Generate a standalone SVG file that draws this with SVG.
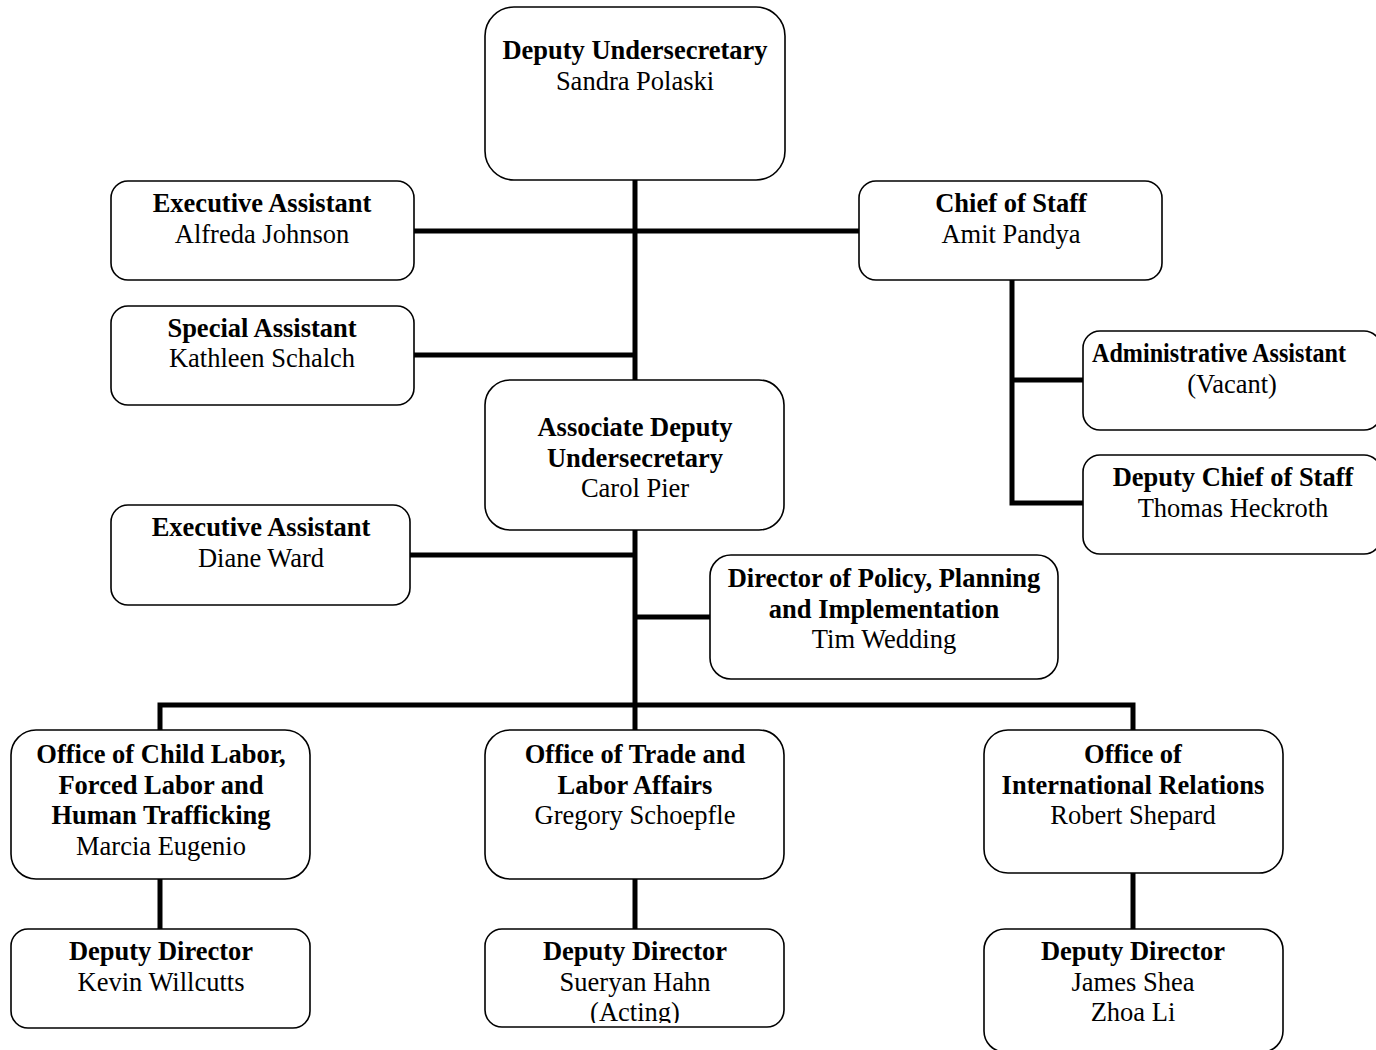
<svg xmlns="http://www.w3.org/2000/svg" width="1376" height="1050" viewBox="0 0 1376 1050">
  <style>
    .box { fill: #ffffff; stroke: #000000; stroke-width: 1.6; }
    .wire { fill: none; stroke: #000000; stroke-width: 5; stroke-linecap: butt; stroke-linejoin: miter; }
    text { font-family: "Liberation Serif", "Times New Roman", serif; font-size: 26.5px; fill: #000000; text-anchor: middle; }
    .t { font-weight: bold; }
  </style>
  <defs>
    <clipPath id="clip-hahn">
      <rect x="486" y="930" width="298" height="93"/>
    </clipPath>
  </defs>
  <rect width="1376" height="1050" fill="#ffffff"/>

  <!-- connectors -->
  <g id="connectors">
    <!-- main spine -->
    <line class="wire" x1="635" y1="180" x2="635" y2="380"/>
    <line class="wire" x1="635" y1="530" x2="635" y2="730"/>
    <!-- staff branches -->
    <line class="wire" x1="414" y1="231" x2="859" y2="231"/>
    <line class="wire" x1="414" y1="355" x2="635" y2="355"/>
    <line class="wire" x1="410" y1="555" x2="635" y2="555"/>
    <line class="wire" x1="635" y1="617" x2="710" y2="617"/>
    <!-- chief of staff branch -->
    <polyline class="wire" points="1012,280 1012,503 1083,503"/>
    <line class="wire" x1="1012" y1="380" x2="1083" y2="380"/>
    <!-- offices bus -->
    <polyline class="wire" points="160,730 160,705 1133,705 1133,730"/>
    <!-- deputies -->
    <line class="wire" x1="160" y1="879" x2="160" y2="929"/>
    <line class="wire" x1="635" y1="879" x2="635" y2="929"/>
    <line class="wire" x1="1133" y1="873" x2="1133" y2="929"/>
  </g>

  <g id="deputy-undersecretary">
    <rect class="box" x="485" y="7" width="300" height="173" rx="29"/>
    <text x="635" y="59" class="t">Deputy Undersecretary</text>
    <text x="635" y="90">Sandra Polaski</text>
  </g>

  <g id="executive-assistant-johnson">
    <rect class="box" x="111" y="181" width="303" height="99" rx="17"/>
    <text x="262" y="212" class="t">Executive Assistant</text>
    <text x="262" y="243">Alfreda Johnson</text>
  </g>

  <g id="chief-of-staff">
    <rect class="box" x="859" y="181" width="303" height="99" rx="17"/>
    <text x="1011" y="212" class="t">Chief of Staff</text>
    <text x="1011" y="243">Amit Pandya</text>
  </g>

  <g id="special-assistant">
    <rect class="box" x="111" y="306" width="303" height="99" rx="17"/>
    <text x="262" y="337" class="t">Special Assistant</text>
    <text x="262" y="367">Kathleen Schalch</text>
  </g>

  <g id="administrative-assistant">
    <rect class="box" x="1083" y="331" width="298" height="99" rx="17"/>
    <text x="1219" y="362" class="t" textLength="254" lengthAdjust="spacingAndGlyphs">Administrative Assistant</text>
    <text x="1232" y="393">(Vacant)</text>
  </g>

  <g id="associate-deputy-undersecretary">
    <rect class="box" x="485" y="380" width="299" height="150" rx="25"/>
    <text x="635" y="436" class="t">Associate Deputy</text>
    <text x="635" y="467" class="t">Undersecretary</text>
    <text x="635" y="497">Carol Pier</text>
  </g>

  <g id="deputy-chief-of-staff">
    <rect class="box" x="1083" y="455" width="298" height="99" rx="17"/>
    <text x="1233" y="486" class="t">Deputy Chief of Staff</text>
    <text x="1233" y="517">Thomas Heckroth</text>
  </g>

  <g id="executive-assistant-ward">
    <rect class="box" x="111" y="505" width="299" height="100" rx="17"/>
    <text x="261" y="536" class="t">Executive Assistant</text>
    <text x="261" y="567">Diane Ward</text>
  </g>

  <g id="director-policy">
    <rect class="box" x="710" y="555" width="348" height="124" rx="21"/>
    <text x="884" y="587" class="t">Director of Policy, Planning</text>
    <text x="884" y="618" class="t">and Implementation</text>
    <text x="884" y="648">Tim Wedding</text>
  </g>

  <g id="office-child-labor">
    <rect class="box" x="11" y="730" width="299" height="149" rx="25"/>
    <text x="161" y="763" class="t">Office of Child Labor,</text>
    <text x="161" y="794" class="t">Forced Labor and</text>
    <text x="161" y="824" class="t">Human Trafficking</text>
    <text x="161" y="855">Marcia Eugenio</text>
  </g>

  <g id="office-trade">
    <rect class="box" x="485" y="730" width="299" height="149" rx="25"/>
    <text x="635" y="763" class="t">Office of Trade and</text>
    <text x="635" y="794" class="t">Labor Affairs</text>
    <text x="635" y="824">Gregory Schoepfle</text>
  </g>

  <g id="office-international">
    <rect class="box" x="984" y="730" width="299" height="143" rx="24"/>
    <text x="1133" y="763" class="t">Office of</text>
    <text x="1133" y="794" class="t">International Relations</text>
    <text x="1133" y="824">Robert Shepard</text>
  </g>

  <g id="deputy-director-child-labor">
    <rect class="box" x="11" y="929" width="299" height="99" rx="17"/>
    <text x="161" y="960" class="t">Deputy Director</text>
    <text x="161" y="991">Kevin Willcutts</text>
  </g>

  <g id="deputy-director-trade">
    <rect class="box" x="485" y="929" width="299" height="98" rx="17"/>
    <g clip-path="url(#clip-hahn)">
      <text x="635" y="960" class="t">Deputy Director</text>
      <text x="635" y="991">Sueryan Hahn</text>
      <text x="635" y="1021">(Acting)</text>
    </g>
  </g>

  <g id="deputy-director-international">
    <rect class="box" x="984" y="929" width="299" height="123" rx="21"/>
    <text x="1133" y="960" class="t">Deputy Director</text>
    <text x="1133" y="991">James Shea</text>
    <text x="1133" y="1021">Zhoa Li</text>
  </g>
</svg>
